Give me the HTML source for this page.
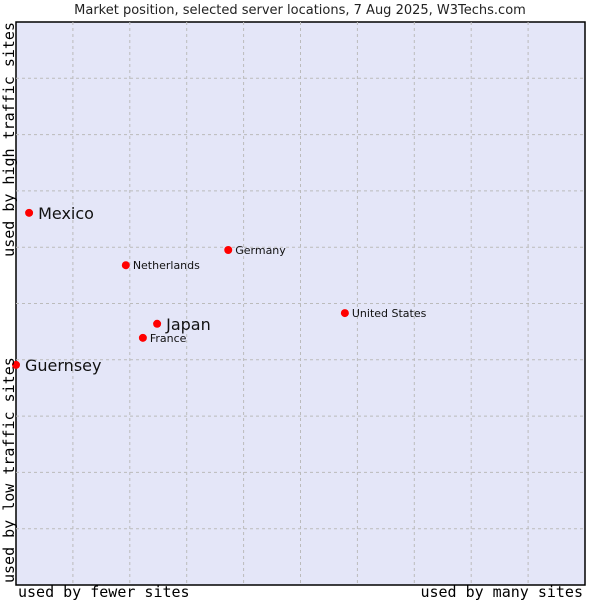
<!DOCTYPE html>
<html><head><meta charset="utf-8"><style>
body{margin:0;background:#fff;width:600px;height:600px;overflow:hidden}
svg text{font-family:"DejaVu Sans","Liberation Sans",sans-serif}
.mono{font-family:"DejaVu Sans Mono","Liberation Mono",monospace}
</style></head><body>
<svg id="chart" width="600" height="600">
<text x="300" y="14" text-anchor="middle" font-size="13" fill="#222">Market position, selected server locations, 7 Aug 2025, W3Techs.com</text>
<rect x="16" y="22" width="569" height="563" fill="#e4e6f8" stroke="#000" stroke-width="1.5"/>
<g id="grid"></g>
<g id="points"></g>
<text class="mono" x="18" y="597" font-size="15" fill="#000">used by fewer sites</text>
<text class="mono" x="583" y="597" font-size="15" text-anchor="end" fill="#000">used by many sites</text>
<text class="mono" transform="translate(14,22) rotate(-90)" font-size="15" text-anchor="end" fill="#000">used by high traffic sites</text>
<text class="mono" transform="translate(14,583) rotate(-90)" font-size="15" fill="#000">used by low traffic sites</text>
</svg>
<script>
const names=["Mexico","Germany","Netherlands","United States","Japan","France","Guernsey"];
const xValues=[2.3,37.3,19.3,57.8,24.8,22.3,0];
const yValues=[66.1,59.5,56.8,48.3,46.4,43.9,39.1];
const bigLabel=[true,false,false,false,true,false,true];
const L=16,T=22,W=569,H=563;
const sx=v=>L+v/100*W, sy=v=>T+H-v/100*H;
const ns="http://www.w3.org/2000/svg";
const grid=document.getElementById('grid');
for(let i=1;i<10;i++){
  const v=document.createElementNS(ns,'line');
  
  
  v.setAttribute('x1',sx(i*10));v.setAttribute('x2',sx(i*10));v.setAttribute('y1',T);v.setAttribute('y2',T+H);
  v.setAttribute('stroke','#bbb');v.setAttribute('stroke-dasharray','3,3');grid.appendChild(v);
  const h=document.createElementNS(ns,'line');
  
  
  h.setAttribute('y1',sy(i*10));h.setAttribute('y2',sy(i*10));h.setAttribute('x1',L);h.setAttribute('x2',L+W);
  h.setAttribute('stroke','#bbb');h.setAttribute('stroke-dasharray','3,3');grid.appendChild(h);
}
const pts=document.getElementById('points');
names.forEach((n,i)=>{
  const x=sx(xValues[i]),y=sy(yValues[i]);
  const c=document.createElementNS(ns,'circle');
  
  
  c.setAttribute('cx',x);c.setAttribute('cy',y);c.setAttribute('r',4);c.setAttribute('fill','#f00');
  pts.appendChild(c);
  const t=document.createElementNS(ns,'text');
  
  
  t.setAttribute('x',x+(bigLabel[i]?9:7));t.setAttribute('y',y+(bigLabel[i]?6:4));
  t.setAttribute('font-size',bigLabel[i]?16:11);t.setAttribute('fill','#111');
  t.textContent=n;pts.appendChild(t);
});
</script>
</body></html>
